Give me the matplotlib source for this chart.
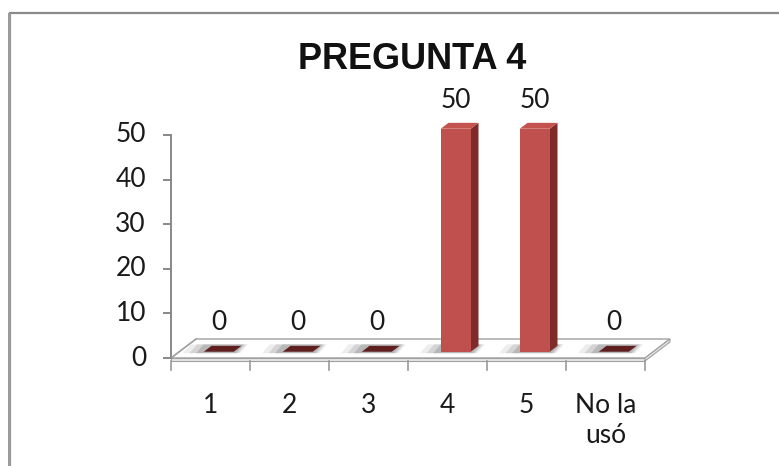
import matplotlib.pyplot as plt
from matplotlib.patches import Polygon, Rectangle

# datos de la pregunta 4
categorias = ['1', '2', '3', '4', '5', 'No la\nusó']
valores = [0, 0, 0, 50, 50, 0]
ticks_y = [0, 10, 20, 30, 40, 50]
titulo = 'PREGUNTA 4'

W, H = 779, 466
fig = plt.figure(figsize=(W / 100, H / 100), dpi=100)
fig.patch.set_facecolor('white')

# marco gris del area del grafico
fig.patches.append(Rectangle((9.5 / W, -0.2), 1.5, (H - 12.5) / H + 0.2,
                             transform=fig.transFigure, fc='white',
                             ec='#8a8a8a', lw=1.6, zorder=-2))
fig.patches.append(Rectangle((8 / W, -0.2), 3 / W, (H - 12.5) / H + 0.2,
                             transform=fig.transFigure, fc='#9a9a9a',
                             ec='none', zorder=-1))

ax = fig.add_axes([171 / W, (H - 358) / H, 474 / W, 223 / H])
ax.set_xlim(-0.5, len(categorias) - 0.5)
ax.set_ylim(0, 50)
ax.axis('off')

# pixeles -> unidades de datos
px = 1 / 79.0
py = 50 / 223.0

DX, DY = 25 * px, 19 * py      # profundidad del piso
T = 3 * py                     # grosor del piso
n = len(categorias)
x0, x1 = -0.5, n - 0.5

fuente = ['Lato', 'DejaVu Sans']
tam = 19
gris = '#a0a0a0'

# piso
ax.add_patch(Polygon([(x0, 0), (x1, 0), (x1 + DX, DY), (x0 + DX, DY)],
                     closed=True, fc='white', ec=gris, lw=1.0,
                     clip_on=False, zorder=1))
ax.add_patch(Polygon([(x0, 0), (x1, 0), (x1, -T), (x0, -T)], closed=True,
                     fc='#e6e6e6', ec=gris, lw=0.8, clip_on=False, zorder=1))
ax.add_patch(Polygon([(x1, 0), (x1 + DX, DY), (x1 + DX, DY - T), (x1, -T)],
                     closed=True, fc='#e6e6e6', ec=gris, lw=0.8,
                     clip_on=False, zorder=1))

# eje vertical
ax.plot([x0, x0], [0, 50], color='#888888', lw=1.4, clip_on=False, zorder=2)
ax.plot([x0, x0 + DX], [0, DY], color=gris, lw=1.0, clip_on=False, zorder=2)
for t in ticks_y:
    ax.plot([x0 - 7 * px, x0], [t, t], color='#888888', lw=1.4,
            clip_on=False, zorder=2)
    ax.text(x0 - 25 * px, t, str(t), ha='right', va='center', fontsize=tam,
            family=fuente, color='#1a1a1a')

# marcas del eje horizontal
for k in range(n + 1):
    xk = x0 + k
    ax.plot([xk, xk], [-T, -T - 9 * py], color='#999999', lw=1.2,
            clip_on=False, zorder=2)

for i, lab in enumerate(categorias):
    ax.text(i, -35 * py, lab, ha='center', va='top', fontsize=tam,
            family=fuente, color='#1a1a1a', linespacing=1.25)

# barras 3D
w = 30 * px
f0, f1 = 0.33, 0.64            # posicion de la barra en la profundidad
c_front = '#c0504d'
c_side = '#7f2b29'
c_top = '#c4534f'
c_zero = '#5e1f1e'

for i, v in enumerate(valores):
    fx, fy = f0 * DX, f0 * DY
    bx, by = f1 * DX, f1 * DY
    xl = i - w / 2
    xr = i + w / 2

    # sombra difusa sobre el piso
    for k, a in zip([16, 11, 6], [0.07, 0.10, 0.13]):
        e = k * px
        ax.add_patch(Polygon([(xl + fx - e * 1.3, fy - 1.5 * py),
                              (xr + fx + e * 0.4, fy - 1.5 * py),
                              (xr + bx + e * 0.4, by + 1.5 * py),
                              (xl + bx - e * 1.3, by + 1.5 * py)],
                             closed=True, fc='black', ec='none', alpha=a,
                             clip_on=False, zorder=3))

    if v == 0:
        ax.add_patch(Polygon([(xl + fx, fy), (xr + fx, fy), (xr + bx, by),
                              (xl + bx, by)], closed=True, fc=c_zero,
                             ec='none', clip_on=False, zorder=4))
    else:
        ax.add_patch(Polygon([(xr + fx, fy), (xr + bx, by),
                              (xr + bx, by + v), (xr + fx, fy + v)],
                             closed=True, fc=c_side, ec='none',
                             clip_on=False, zorder=4))
        ax.add_patch(Rectangle((xl + fx, fy), w, v, fc=c_front, ec='none',
                               clip_on=False, zorder=5))
        ax.add_patch(Polygon([(xl + fx, fy + v), (xr + fx, fy + v),
                              (xr + bx, by + v), (xl + bx, by + v)],
                             closed=True, fc=c_top, ec='none',
                             clip_on=False, zorder=5))

    # etiqueta de valor
    ax.text(i + 8 * px, v + 35 * py, str(v), ha='center', va='center',
            fontsize=tam, family=fuente, color='#1a1a1a', zorder=6)

fig.text(412 / W, 1 - 60 / H, titulo, ha='center', va='center',
         fontsize=26, fontweight='bold', family=['Liberation Sans', 'DejaVu Sans'],
         color='#111111')

fig.savefig('out.png', dpi=100)
